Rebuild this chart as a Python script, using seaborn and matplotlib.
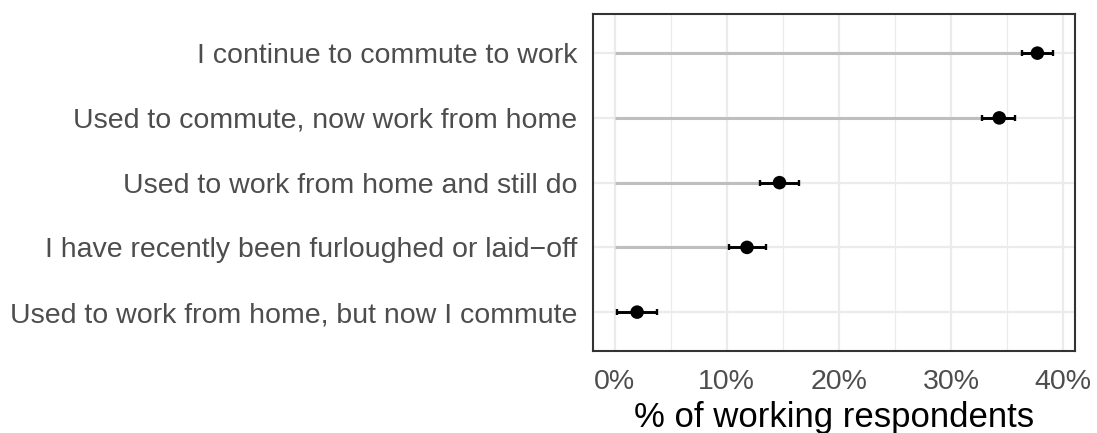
import matplotlib
matplotlib.use("Agg")
import matplotlib.pyplot as plt
from matplotlib.ticker import MultipleLocator, FuncFormatter
import seaborn as sns
import pandas as pd

# commuting status, top to bottom
categories = [
    "I continue to commute to work",
    "Used to commute, now work from home",
    "Used to work from home and still do",
    "I have recently been furloughed or laid\u2212off",
    "Used to work from home, but now I commute",
]
pct = [37.7, 34.3, 14.7, 11.8, 2.0]
pct_lo = [36.3, 32.8, 13.0, 10.2, 0.25]
pct_hi = [39.1, 35.7, 16.4, 13.5, 3.75]

df = pd.DataFrame({"status": categories, "pct": pct, "lo": pct_lo, "hi": pct_hi})
df["pos"] = range(len(df))

sns.set_theme(style="white")
plt.rcParams["font.family"] = ["Liberation Sans", "DejaVu Sans"]

fig = plt.figure(figsize=(10.97, 4.33), dpi=100)
ax = fig.add_axes([0.5403, 0.1894, 0.4397, 0.7776])

# grid like theme_bw
ax.xaxis.set_major_locator(MultipleLocator(10))
ax.xaxis.set_minor_locator(MultipleLocator(5))
ax.grid(True, which="major", axis="both", color="#ebebeb", lw=1.6, zorder=0)
ax.grid(True, which="minor", axis="x", color="#ebebeb", lw=0.8, zorder=0)

# lollipop stems
ax.hlines(df["pos"], 0, df["pct"], color="#bebebe", lw=2.2, zorder=2)
ax.errorbar(df["pct"], df["pos"],
            xerr=[df["pct"] - df["lo"], df["hi"] - df["pct"]],
            fmt="none", ecolor="black", elinewidth=2.1, capsize=2.4,
            capthick=1.7, zorder=3)
sns.scatterplot(data=df, x="pct", y="pos", color="black", s=95,
                edgecolor="none", ax=ax, zorder=4)

ax.set_xlim(-1.96, 41.06)
ax.set_ylim(4.6, -0.6)
ax.set_yticks(df["pos"])
ax.set_yticklabels(df["status"])
ax.xaxis.set_major_formatter(FuncFormatter(lambda v, p: f"{v:.0f}%"))

ax.set_xlabel("% of working respondents", fontsize=25, color="black", labelpad=4)
ax.set_ylabel("")
ax.tick_params(axis="both", which="major", labelsize=20.5, labelcolor="#4d4d4d",
               length=6.2, width=1.6, color="#333333", pad=5)
ax.tick_params(axis="x", which="major", pad=7)
ax.tick_params(axis="x", which="minor", length=0)

for s in ax.spines.values():
    s.set_color("#333333")
    s.set_linewidth(1.5)

fig.savefig("out.png", dpi=100)
